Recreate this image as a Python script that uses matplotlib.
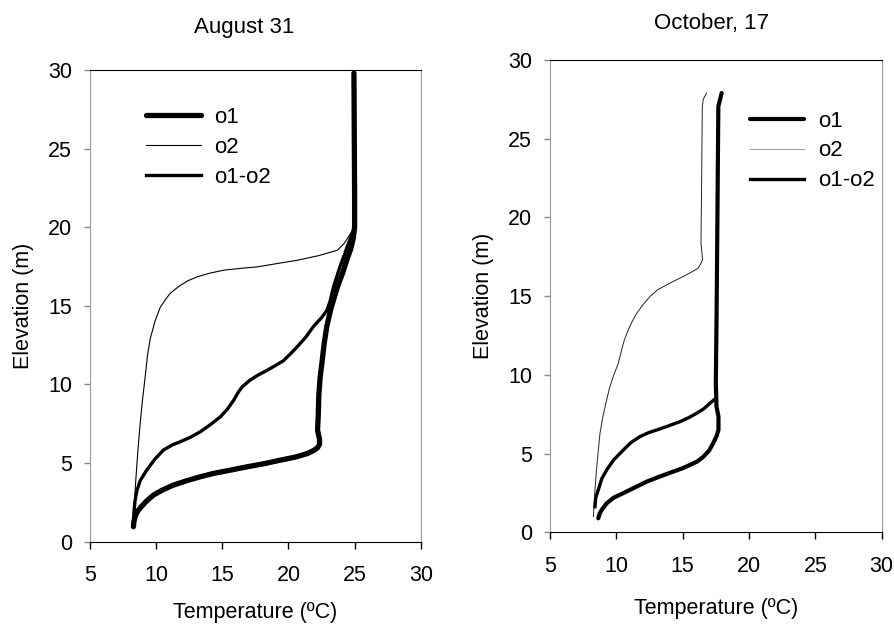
import matplotlib.pyplot as plt

plt.rcParams['font.family'] = ['Liberation Sans', 'DejaVu Sans']

# August 31 profiles (temperature in C, elevation in m)
aug_o1_t = [8.28, 8.32, 8.45, 8.65, 8.9, 9.29, 9.8, 10.5, 11.3, 12.2, 13.2, 14.3, 15.6, 16.9, 18.2,
            19.4, 20.5, 21.4, 21.9, 22.2, 22.35, 22.35, 22.2, 22.25, 22.3, 22.4, 22.55, 22.7, 22.9,
            23.2, 23.7, 24.1, 24.4, 24.7, 24.9, 25.0, 25.0, 24.95]
aug_o1_z = [0.95, 1.3, 1.7, 2.0, 2.25, 2.6, 2.97, 3.3, 3.6, 3.85, 4.1, 4.34, 4.55, 4.77, 4.97,
            5.19, 5.38, 5.6, 5.8, 5.98, 6.2, 6.5, 7.1, 8.0, 9.4, 10.5, 11.5, 12.6, 13.7,
            14.8, 16.2, 17.1, 17.9, 18.6, 19.3, 20.0, 22.1, 29.8]

aug_o2_t = [8.28, 8.35, 8.45, 8.55, 8.66, 8.8, 8.95, 9.17, 9.35, 9.55, 9.9, 10.3, 10.7, 11.06, 11.5,
            11.82, 12.4, 13.08, 14.0, 15.1, 16.3, 17.63, 19.2, 20.66, 22.3, 23.7, 24.2, 24.7, 25.0]
aug_o2_z = [1.17, 2.5, 3.8, 5.0, 6.25, 7.6, 8.9, 10.5, 11.9, 12.9, 14.0, 14.9, 15.4, 15.8, 16.1,
            16.3, 16.6, 16.84, 17.07, 17.27, 17.38, 17.48, 17.7, 17.9, 18.2, 18.54, 18.96, 19.6, 20.0]

aug_d_t = [8.28, 8.32, 8.4, 8.55, 8.8, 9.29, 9.9, 10.55, 11.2, 11.82, 12.6, 13.33, 14.1, 14.85, 15.4,
           15.86, 16.2, 16.5, 17.1, 17.7, 18.38, 19.0, 19.6, 20.15, 20.66, 21.3, 21.9, 22.5, 22.9,
           23.15, 23.4, 23.9, 24.44, 24.82, 25.0]
aug_d_z = [1.2, 1.9, 2.6, 3.28, 3.9, 4.56, 5.25, 5.83, 6.15, 6.36, 6.65, 6.99, 7.45, 7.94, 8.45,
           9.0, 9.5, 9.85, 10.28, 10.6, 10.9, 11.2, 11.5, 11.95, 12.4, 13.0, 13.7, 14.25, 14.7,
           15.3, 16.2, 17.5, 18.75, 19.6, 20.0]

# October 17 profiles
oct_o1_t = [8.64, 8.75, 8.9, 9.27, 9.8, 10.5, 11.4, 12.29, 13.3, 14.3, 15.0, 15.55, 16.1, 16.56,
            17.0, 17.3, 17.55, 17.7, 17.7, 17.55, 17.5, 17.56, 17.62, 17.69, 17.94]
oct_o1_z = [0.89, 1.2, 1.42, 1.84, 2.2, 2.48, 2.85, 3.22, 3.55, 3.86, 4.07, 4.28, 4.5, 4.8,
            5.2, 5.66, 6.1, 6.5, 7.35, 8.0, 9.47, 14.0, 20.0, 27.06, 27.9]

oct_o2_t = [8.27, 8.33, 8.39, 8.5, 8.63, 8.77, 9.0, 9.27, 9.5, 9.77, 10.15, 10.4, 10.6, 10.9, 11.2,
            11.53, 12.0, 12.54, 13.1, 13.79, 14.4, 15.05, 15.6, 16.18, 16.5, 16.45, 16.38, 16.43,
            16.48, 16.55, 16.8]
oct_o2_z = [1.0, 1.8, 2.69, 3.9, 5.1, 6.29, 7.4, 8.41, 9.2, 9.9, 10.74, 11.59, 12.2, 12.86, 13.4,
            13.9, 14.45, 14.98, 15.4, 15.72, 15.98, 16.25, 16.5, 16.78, 17.3, 17.8, 18.37, 22.2,
            27.0, 27.5, 27.9]

oct_d_t = [8.39, 8.45, 8.64, 8.9, 9.27, 9.8, 10.53, 11.1, 11.78, 12.4, 13.04, 13.9, 14.8, 15.45,
           16.05, 16.6, 17.06, 17.36]
oct_d_z = [1.63, 2.2, 2.69, 3.4, 3.96, 4.6, 5.23, 5.7, 6.08, 6.32, 6.5, 6.75, 7.03, 7.28,
           7.56, 7.85, 8.2, 8.41]

ticks = [0, 5, 10, 15, 20, 25, 30]
xticks = [5, 10, 15, 20, 25, 30]

fig = plt.figure(figsize=(8.95, 6.27), dpi=100)
ax1 = fig.add_axes([0.1006, 0.136, 0.3695, 0.7523])
ax2 = fig.add_axes([0.6145, 0.151, 0.3706, 0.7533])


def style(ax, xpad):
    ax.set_xlim(5, 30)
    ax.set_ylim(0, 30)
    ax.set_xticks(xticks)
    ax.set_yticks(ticks)
    ax.tick_params(labelsize=15.5, width=1, direction='out')
    ax.tick_params(axis='x', length=5, pad=12)
    ax.tick_params(axis='y', length=4, pad=9, color='#888888')
    for s in ['left', 'right']:
        ax.spines[s].set_color('#999999')
    for s in ['top', 'bottom']:
        ax.spines[s].set_color('black')
    ax.set_xlabel('Temperature (ºC)', fontsize=15.5, labelpad=xpad)
    ax.set_ylabel('Elevation (m)', fontsize=15.5, labelpad=10)


legend_kw = dict(loc='upper left', frameon=False, fontsize=16, handlelength=2.45,
                 handletextpad=0.6, labelspacing=0.4, borderaxespad=0, borderpad=0)

ax1.plot(aug_o1_t, aug_o1_z, color='black', lw=3.8, solid_capstyle='round', label='o1')
ax1.plot(aug_o2_t, aug_o2_z, color='black', lw=0.8, label='o2')
ax1.plot(aug_d_t, aug_d_z, color='black', lw=2.4, label='o1-o2')
style(ax1, 11)
ax1.set_title('August 31', fontsize=16, x=0.466, pad=27)
ax1.legend(bbox_to_anchor=(0.17, 0.922), **legend_kw)

ax2.plot(oct_o1_t, oct_o1_z, color='black', lw=3.0, solid_capstyle='round', label='o1')
ax2.plot(oct_o2_t, oct_o2_z, color='#222222', lw=0.7, label='o2')
ax2.plot(oct_d_t, oct_d_z, color='black', lw=2.4, label='o1-o2')
style(ax2, 15)
ax2.set_title('October, 17', fontsize=16, x=0.488, pad=22)
leg = ax2.legend(bbox_to_anchor=(0.603, 0.893), **legend_kw)
leg.get_lines()[1].set_color('#999999')

fig.savefig('out.png', dpi=100)
